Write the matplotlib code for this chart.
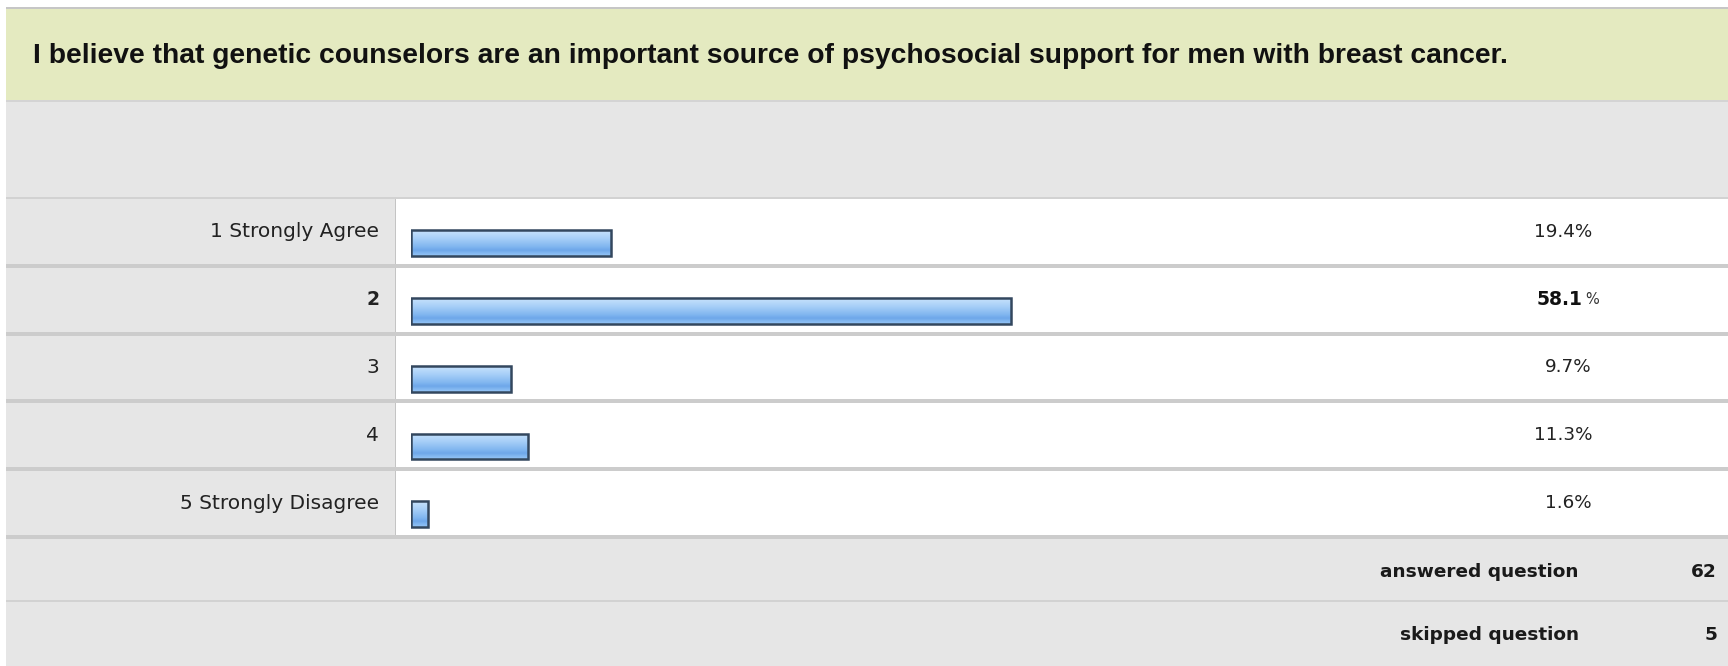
import matplotlib
matplotlib.use("Agg")
import matplotlib.pyplot as plt
import numpy as np
from matplotlib.patches import Rectangle
from matplotlib.colors import LinearSegmentedColormap

# Survey question and its answers
question = ("I believe that genetic counselors are an important source of "
            "psychosocial support for men with breast cancer.")
answers = ["1 Strongly Agree", "2", "3", "4", "5 Strongly Disagree"]
percents = [19.4, 58.1, 9.7, 11.3, 1.6]
answered = 62
skipped = 5

W, H = 1728, 666
fig = plt.figure(figsize=(W / 100, H / 100), dpi=100)
fig.patch.set_facecolor("white")

GRAY = "#e6e6e6"
GREEN = "#e4eac0"
LINE = "#cccccc"


def box(x, y, w, h, color, z=0):
    # rectangle in pixel units, measured from the top-left corner
    fig.add_artist(Rectangle((x / W, 1 - (y + h) / H), w / W, h / H,
                             transform=fig.transFigure, facecolor=color,
                             edgecolor="none", zorder=z))


# header band and table background
box(6, 7, W - 6, 2, "#c6c6c6")
box(6, 9, W - 6, 91, GREEN)
box(6, 100, W - 6, 1.5, "#d4d4d4")
box(6, 101.5, W - 6, H - 101.5, GRAY)
fig.text(33 / W, 1 - 56 / H, question, ha="left", va="center",
         fontsize=20.3, fontweight="bold", family="Liberation Sans",
         color="#111111")

row_top, row_h = 198, 67.8
n = len(answers)
box(396, row_top, W - 396, row_h * n, "white")
box(394.5, row_top, 1.2, row_h * n, "#c4c4c4", z=1)
box(6, row_top - 1, W - 6, 2, "#d2d2d2", z=1)
for i in range(1, n + 1):
    box(6, row_top + row_h * i - 2, W - 6, 4, LINE, z=1)
box(6, 600, W - 6, 1.6, "#d2d2d2", z=1)

# bar panel: 0-100 % spread over the white column
x0, x100 = 411, 1444
ax = fig.add_axes([x0 / W, 1 - (row_top + row_h * n) / H,
                   (x100 - x0) / W, row_h * n / H])
ax.set_xlim(0, 100)
ax.set_ylim(n - 0.5, -0.5)
ax.axis("off")
ax.patch.set_visible(False)

ypos = np.arange(n)
bar_off = 0.165
bars = ax.barh(ypos + bar_off, percents, height=0.38, facecolor="none",
               edgecolor="#33475e", linewidth=1.8, zorder=3)

# vertical blue gradient inside each bar
grad_cmap = LinearSegmentedColormap.from_list(
    "barblue", [(0.0, "#c8e2fc"), (0.3, "#a9d0f8"), (0.6, "#86baf1"),
                (0.78, "#6ea7ea"), (1.0, "#95c6f6")])
grad = np.linspace(0, 1, 64).reshape(-1, 1)
for b in bars:
    im = ax.imshow(grad, cmap=grad_cmap, aspect="auto", zorder=2,
                   extent=(b.get_x(), b.get_x() + b.get_width(),
                           b.get_y() + b.get_height(), b.get_y()))
    im.set_clip_path(b)
ax.set_xlim(0, 100)
ax.set_ylim(n - 0.5, -0.5)

tr = ax.get_yaxis_transform()
top = int(np.argmax(percents))
lab_x = (379 - x0) / (x100 - x0)
pct_x = (1592 - x0) / (x100 - x0)
for i, (lab, p) in enumerate(zip(answers, percents)):
    bold = i == top
    ax.text(lab_x, i, lab, transform=tr, ha="right", va="center",
            fontsize=14.5 if not bold else 13.5,
            fontweight="bold" if bold else "normal",
            family="DejaVu Sans", color="#222222", clip_on=False)
    if bold:
        ax.text((1582 - x0) / (x100 - x0), i, f"{p:.1f}", transform=tr,
                ha="right", va="center", fontsize=13.5, fontweight="bold",
                family="DejaVu Sans", color="#111111", clip_on=False)
        ax.text((1585 - x0) / (x100 - x0), i, "%", transform=tr,
                ha="left", va="center", fontsize=10.5,
                family="DejaVu Sans", color="#333333", clip_on=False)
    else:
        ax.text(pct_x, i, f"{p:.1f}%", transform=tr, ha="right",
                va="center", fontsize=13.2, family="DejaVu Sans",
                color="#222222", clip_on=False)

# answered / skipped counts
for y, name, val in [(572, "answered question", answered),
                     (635, "skipped question", skipped)]:
    fig.text(1579 / W, 1 - y / H, name, ha="right", va="center",
             fontsize=13.3, fontweight="bold", family="DejaVu Sans",
             color="#1a1a1a")
    fig.text(1717 / W, 1 - y / H, str(val), ha="right", va="center",
             fontsize=13.3, fontweight="bold", family="DejaVu Sans",
             color="#1a1a1a")

fig.savefig("out.png", dpi=100)
